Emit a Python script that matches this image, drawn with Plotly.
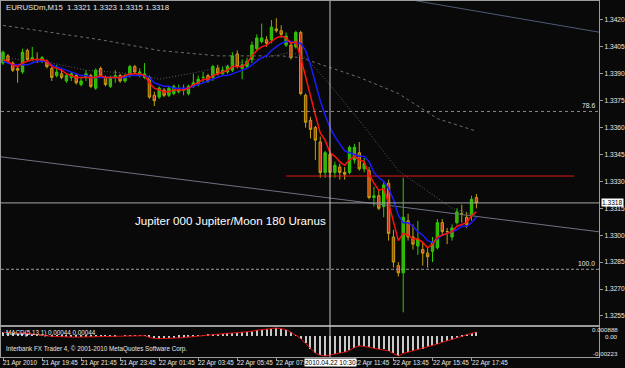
import plotly.graph_objects as go

# ---------------- data (EURUSDm, M15, bar 0 = 21 Apr 2010 17:45) ----------------
opens = [
    1.3396, 1.3400, 1.3396, 1.3393, 1.3391, 1.3403, 1.3398, 1.3398, 1.3397, 1.3397,
    1.3393, 1.3389, 1.3390, 1.3386, 1.3388, 1.3389, 1.3384, 1.3388, 1.3389, 1.3382,
    1.3393, 1.3388, 1.3383, 1.3388, 1.3389, 1.3386, 1.3389, 1.3394, 1.3389, 1.3388,
    1.3388, 1.3378, 1.3377, 1.3381, 1.3378, 1.3379, 1.3380, 1.3381, 1.3379, 1.3383,
    1.3384, 1.3388, 1.3389, 1.3388, 1.3393, 1.3390, 1.3391, 1.3392, 1.3401, 1.3393,
    1.3394, 1.3398, 1.3404, 1.3408, 1.3409, 1.3409, 1.3415, 1.3414, 1.3406, 1.3406,
    1.3405, 1.3413, 1.3378, 1.3364, 1.3360, 1.3352, 1.3335, 1.3345, 1.3335, 1.3338,
    1.3335, 1.3335, 1.3342, 1.3346, 1.3337, 1.3336, 1.3321, 1.3322, 1.3316, 1.3329,
    1.3299, 1.3283, 1.3279, 1.3308, 1.3299, 1.3294, 1.3292, 1.3290, 1.3291, 1.3293,
    1.3307, 1.3302, 1.3299, 1.3307, 1.3312, 1.3310, 1.3311, 1.3321]
highs = [
    1.3403, 1.3401, 1.3397, 1.3394, 1.3404, 1.3404, 1.3405, 1.3402, 1.3400, 1.3398,
    1.3395, 1.3395, 1.3393, 1.3390, 1.3391, 1.3390, 1.3388, 1.3392, 1.3390, 1.3393,
    1.3394, 1.3389, 1.3389, 1.3392, 1.3390, 1.3390, 1.3395, 1.3395, 1.3393, 1.3396,
    1.3389, 1.3380, 1.3383, 1.3382, 1.3383, 1.3384, 1.3384, 1.3384, 1.3384, 1.3390,
    1.3389, 1.3391, 1.3390, 1.3395, 1.3395, 1.3394, 1.3395, 1.3402, 1.3403, 1.3398,
    1.3399, 1.3408, 1.3412, 1.3418, 1.3411, 1.3420, 1.3421, 1.3417, 1.3413, 1.3407,
    1.3414, 1.3414, 1.3379, 1.3366, 1.3361, 1.3355, 1.3347, 1.3347, 1.3341, 1.3340,
    1.3338, 1.3350, 1.3351, 1.3352, 1.3343, 1.3338, 1.3327, 1.3325, 1.3330, 1.3331,
    1.3303, 1.3285, 1.3332, 1.3312, 1.3306, 1.3308, 1.3296, 1.3293, 1.3299, 1.3309,
    1.3309, 1.3304, 1.3306, 1.3315, 1.3317, 1.3313, 1.3322, 1.3323]
lows = [
    1.3395, 1.3396, 1.3391, 1.3385, 1.3390, 1.3397, 1.3397, 1.3396, 1.3396, 1.3393,
    1.3386, 1.3388, 1.3387, 1.3385, 1.3386, 1.3384, 1.3383, 1.3386, 1.3382, 1.3381,
    1.3388, 1.3383, 1.3382, 1.3385, 1.3385, 1.3385, 1.3388, 1.3390, 1.3388, 1.3387,
    1.3376, 1.3372, 1.3376, 1.3377, 1.3377, 1.3378, 1.3379, 1.3378, 1.3378, 1.3382,
    1.3383, 1.3385, 1.3385, 1.3386, 1.3389, 1.3389, 1.3390, 1.3391, 1.3393, 1.3387,
    1.3393, 1.3396, 1.3403, 1.3407, 1.3405, 1.3407, 1.3413, 1.3410, 1.3405, 1.3398,
    1.3404, 1.3378, 1.3360, 1.3354, 1.3342, 1.3332, 1.3332, 1.3332, 1.3332, 1.3331,
    1.3331, 1.3334, 1.3340, 1.3336, 1.3335, 1.3320, 1.3316, 1.3314, 1.3310, 1.3297,
    1.3282, 1.3277, 1.3257, 1.3297, 1.3292, 1.3289, 1.3283, 1.3282, 1.3285, 1.3292,
    1.3300, 1.3295, 1.3297, 1.3306, 1.3307, 1.3304, 1.3308, 1.3315]
closes = [
    1.3402, 1.3397, 1.3392, 1.3392, 1.3402, 1.3398, 1.3399, 1.3398, 1.3399, 1.3394,
    1.3388, 1.3391, 1.3388, 1.3389, 1.3390, 1.3385, 1.3386, 1.3390, 1.3383, 1.3392,
    1.3389, 1.3384, 1.3388, 1.3389, 1.3386, 1.3389, 1.3394, 1.3391, 1.3391, 1.3390,
    1.3377, 1.3375, 1.3382, 1.3378, 1.3382, 1.3383, 1.3381, 1.3381, 1.3383, 1.3385,
    1.3387, 1.3388, 1.3386, 1.3394, 1.3390, 1.3392, 1.3394, 1.3400, 1.3394, 1.3395,
    1.3397, 1.3406, 1.3410, 1.3410, 1.3407, 1.3416, 1.3414, 1.3412, 1.3411, 1.3399,
    1.3413, 1.3379, 1.3363, 1.3359, 1.3353, 1.3335, 1.3346, 1.3335, 1.3339, 1.3335,
    1.3334, 1.3349, 1.3349, 1.3337, 1.3340, 1.3321, 1.3322, 1.3315, 1.3328, 1.3301,
    1.3285, 1.3279, 1.3310, 1.3299, 1.3295, 1.3298, 1.3290, 1.3288, 1.3296, 1.3307,
    1.3302, 1.3302, 1.3304, 1.3313, 1.3312, 1.3306, 1.3320, 1.3318]

# fast moving average (red) and slower moving average (blue), read per bar
ma_red = [
    1.3398, 1.3397, 1.3395, 1.3394, 1.3396, 1.3397, 1.3398, 1.3398, 1.3398, 1.3397,
    1.3394, 1.3393, 1.3392, 1.3390, 1.3389, 1.3388, 1.3388, 1.3388, 1.3388, 1.3388,
    1.3389, 1.3388, 1.3388, 1.3388, 1.3388, 1.3389, 1.3390, 1.3390, 1.3390, 1.3389,
    1.3385, 1.3382, 1.3381, 1.3380, 1.3380, 1.3381, 1.3381, 1.3381, 1.3382, 1.3384,
    1.3385, 1.3387, 1.3387, 1.3389, 1.3390, 1.3391, 1.3392, 1.3394, 1.3394, 1.3394,
    1.3396, 1.3400, 1.3403, 1.3405, 1.3406, 1.3408, 1.3410, 1.3411, 1.3410, 1.3407,
    1.3408, 1.3399, 1.3388, 1.3377, 1.3367, 1.3357, 1.3353, 1.3346, 1.3344, 1.3341,
    1.3339, 1.3342, 1.3344, 1.3342, 1.3341, 1.3334, 1.3329, 1.3325, 1.3326, 1.3318,
    1.3307, 1.3297, 1.3301, 1.3300, 1.3298, 1.3298, 1.3296, 1.3293, 1.3295, 1.3299,
    1.3300, 1.3301, 1.3302, 1.3305, 1.3306, 1.3307, 1.3311, 1.3313]
ma_blue = [
    1.3397, 1.3396, 1.3395, 1.3395, 1.3395, 1.3395, 1.3396, 1.3397, 1.3397, 1.3397,
    1.3395, 1.3394, 1.3393, 1.3392, 1.3391, 1.3390, 1.3389, 1.3389, 1.3388, 1.3388,
    1.3388, 1.3388, 1.3388, 1.3388, 1.3388, 1.3388, 1.3389, 1.3389, 1.3389, 1.3389,
    1.3388, 1.3385, 1.3384, 1.3383, 1.3383, 1.3382, 1.3382, 1.3382, 1.3382, 1.3383,
    1.3384, 1.3385, 1.3386, 1.3387, 1.3388, 1.3389, 1.3389, 1.3390, 1.3391, 1.3392,
    1.3393, 1.3395, 1.3397, 1.3399, 1.3400, 1.3403, 1.3405, 1.3407, 1.3408, 1.3408,
    1.3407, 1.3407, 1.3403, 1.3395, 1.3385, 1.3375, 1.3367, 1.3360, 1.3355, 1.3351,
    1.3347, 1.3346, 1.3345, 1.3344, 1.3344, 1.3341, 1.3335, 1.3332, 1.3330, 1.3326,
    1.3320, 1.3311, 1.3307, 1.3307, 1.3305, 1.3302, 1.3300, 1.3297, 1.3296, 1.3298,
    1.3300, 1.3301, 1.3302, 1.3303, 1.3305, 1.3305, 1.3307, 1.3310]

# long and medium moving averages (dotted grey), read at sample bars
ma_long_bars = [0, 10, 20, 32, 44, 57, 61, 73, 81, 89, 97]
ma_long_vals = [1.3417, 1.3413, 1.3409, 1.3403, 1.3400, 1.3400, 1.3399, 1.3388, 1.3379, 1.3365, 1.3358]
ma_mid_bars = [0, 10, 17, 27, 32, 40, 50, 57, 59, 62, 66, 73, 81, 92, 97]
ma_mid_vals = [1.3399, 1.3396, 1.3392, 1.3390, 1.3387, 1.3391, 1.3397, 1.3401, 1.3402, 1.3399,
               1.3387, 1.3364, 1.3336, 1.3315, 1.3311]

# MACD(5,13,1) histogram values
macd = [
    0.00040, 0.00035, 0.00030, 0.00032, 0.00035, 0.00030, 0.00020, 0.00015, 0.00010, 0.00002,
    -0.00004, -0.00008, -0.00011, -0.00012, -0.00012, -0.00013, -0.00012, -0.00010, -0.00009, -0.00006,
    -0.00004, -0.00003, -0.00002, -0.00001, 0.00000, 0.00001, 0.00002, 0.00003, 0.00004, 0.00003,
    -0.00015, -0.00028, -0.00030, -0.00030, -0.00028, -0.00026, -0.00022, -0.00018, -0.00012, -0.00005,
    0.00002, 0.00008, 0.00013, 0.00018, 0.00022, 0.00026, 0.00030, 0.00033, 0.00036, 0.00039,
    0.00042, 0.00052, 0.00064, 0.00072, 0.00074, 0.00080, 0.000888, 0.00082, 0.00070, 0.00040,
    0.00010, -0.00030, -0.00082, -0.00140, -0.00190, -0.00215, -0.00223, -0.00212, -0.00202, -0.00192,
    -0.00180, -0.00160, -0.00130, -0.00110, -0.00115, -0.00125, -0.00138, -0.00145, -0.00150, -0.00165,
    -0.00195, -0.00222, -0.00195, -0.00180, -0.00168, -0.00155, -0.00140, -0.00125, -0.00110, -0.00090,
    -0.00070, -0.00055, -0.00040, -0.00025, -0.00005, 0.00015, 0.00030, 0.00044]

# objects drawn on the chart (bar index, price)
trend_grey_bars = [-1, 123]
trend_grey_prices = [1.33439, 1.33016]
trend_top_bars = [84, 123]
trend_top_prices = [1.34310, 1.34128]
red_level_bars = [58, 117]
red_level_price = 1.3333
fib_786_price = 1.3369
fib_100_price = 1.3281
crosshair_bar = 67
text_bar = 26.6
text_price = 1.3308

# axis labels
price_ticks = [1.3420, 1.3405, 1.3390, 1.3375, 1.3360, 1.3345, 1.3330, 1.3315,
               1.3300, 1.3285, 1.3270, 1.3255]
time_tick_bars = [0, 8, 16, 24, 32, 40, 48, 56, 72, 80, 88, 96]
time_tick_labels = ["21 Apr 2010", "21 Apr 19:45", "21 Apr 21:45", "21 Apr 23:45",
                    "22 Apr 01:45", "22 Apr 03:45", "22 Apr 05:45", "22 Apr 07:45",
                    "22 Apr 11:45", "22 Apr 13:45", "22 Apr 15:45", "22 Apr 17:45"]
crosshair_label = "2010.04.22 10:30"
header = "EURUSDm,M15  1.3321 1.3323 1.3315 1.3318"
macd_label = "MACD(5,13,1) 0.00044 0.00044"
copyright_txt = "Interbank FX Trader 4, \u00a9 2001-2010 MetaQuotes Software Corp."
astro_text = "Jupiter 000 Jupiter/Moon 180 Uranus"
macd_scale_vals = [0.000888, 0.0, -0.00223]
macd_scale_text = ["0.000888", "0.00", "-0.00223"]

# ---------------- figure ----------------
W, H = 625, 368
BG = "#090909"
FRAME = "#9c9c9c"
SMALL = "Liberation Sans, Arial, sans-serif"
n = len(opens)
bars = list(range(n))

def py(px):  # vertical pixel -> paper fraction
    return 1 - px / H

fig = go.Figure()

fig.add_trace(go.Scatter(x=ma_long_bars, y=ma_long_vals, mode="lines",
                         line=dict(color="#6e6e6e", width=1, dash="3px,3px"),
                         hoverinfo="skip", showlegend=False))
fig.add_trace(go.Scatter(x=ma_mid_bars, y=ma_mid_vals, mode="lines",
                         line=dict(color="#5e5e5e", width=1, dash="1px,2px"),
                         hoverinfo="skip", showlegend=False))
fig.add_trace(go.Scatter(x=trend_grey_bars, y=trend_grey_prices, mode="lines",
                         line=dict(color="#6c7282", width=1), hoverinfo="skip", showlegend=False))
fig.add_trace(go.Scatter(x=trend_top_bars, y=trend_top_prices, mode="lines",
                         line=dict(color="#4c5c74", width=1), hoverinfo="skip", showlegend=False))
fig.add_trace(go.Scatter(x=red_level_bars, y=[red_level_price] * 2, mode="lines",
                         line=dict(color="#e01818", width=1), hoverinfo="skip", showlegend=False))

fig.add_trace(go.Candlestick(
    x=bars, open=opens, high=highs, low=lows, close=closes,
    increasing=dict(line=dict(color="#2ecc00", width=1), fillcolor="#46a618"),
    decreasing=dict(line=dict(color="#c4a010", width=1), fillcolor="#d0321a"),
    whiskerwidth=0, hoverinfo="skip", showlegend=False))

fig.add_trace(go.Scatter(x=bars, y=ma_blue, mode="lines",
                         line=dict(color="#1a1aff", width=1.5), hoverinfo="skip", showlegend=False))
fig.add_trace(go.Scatter(x=bars, y=ma_red, mode="lines",
                         line=dict(color="#ff1010", width=1.5), hoverinfo="skip", showlegend=False))

fig.add_trace(go.Bar(x=bars, y=macd, width=0.22, marker=dict(color="#c8c8c8", line=dict(width=0)),
                     xaxis="x2", yaxis="y2", hoverinfo="skip", showlegend=False))
fig.add_trace(go.Scatter(x=bars, y=macd, mode="lines", line=dict(color="#e01010", width=1),
                         xaxis="x2", yaxis="y2", hoverinfo="skip", showlegend=False))

XR = [-0.41, 122.15]
PLOT_R = 603 / W
main_dom = [py(325), py(1)]
macd_dom = [py(357), py(327)]

axis_common = dict(showgrid=False, zeroline=False, showline=True, linecolor=FRAME,
                   linewidth=1, mirror=True)

fig.update_layout(
    width=W, height=H, margin=dict(l=0, r=0, t=0, b=0),
    paper_bgcolor=BG, plot_bgcolor=BG, showlegend=False, hovermode=False,
    bargap=0,
    xaxis=dict(domain=[0, PLOT_R], range=XR, anchor="y", showticklabels=False, ticks="",
               rangeslider=dict(visible=False), **axis_common),
    yaxis=dict(domain=main_dom, range=[1.324993, 1.343059], side="right", anchor="x",
               tickvals=price_ticks, ticktext=[f"{v:.4f}" for v in price_ticks],
               ticks="outside", ticklen=3, tickcolor=FRAME,
               tickfont=dict(family=SMALL, size=6.6, color="#e8e8e8"), **axis_common),
    xaxis2=dict(domain=[0, PLOT_R], range=XR, anchor="y2", matches="x",
                tickvals=time_tick_bars, ticks="outside", ticklen=3, tickcolor=FRAME,
                showticklabels=False, **axis_common),
    yaxis2=dict(domain=macd_dom, range=[-0.002341, 0.000999], side="right", anchor="x2",
                showticklabels=False, ticks="", **axis_common),
)

shapes = []
shapes.append(dict(type="line", xref="paper", x0=0, x1=PLOT_R, yref="y",
                   y0=fib_786_price, y1=fib_786_price, line=dict(color="#8a8a8a", width=1, dash="dot")))
shapes.append(dict(type="line", xref="paper", x0=0, x1=PLOT_R, yref="y",
                   y0=fib_100_price, y1=fib_100_price, line=dict(color="#9a9a9a", width=1, dash="3px,2px")))
shapes.append(dict(type="line", xref="paper", x0=0, x1=PLOT_R, yref="y",
                   y0=closes[-1], y1=closes[-1], line=dict(color="#a8a8a8", width=1)))
shapes.append(dict(type="line", xref="x", x0=crosshair_bar, x1=crosshair_bar, yref="paper",
                   y0=py(357), y1=py(1), line=dict(color="#c4c4c4", width=1)))
fig.update_layout(shapes=shapes)

ann = []
small_font = dict(family=SMALL, size=6.3, color="#e6e6e6")
for b, lab in zip(time_tick_bars, time_tick_labels):
    ann.append(dict(x=b, xref="x", y=py(362.5), yref="paper", text=lab, showarrow=False,
                    xanchor="left", yanchor="middle", xshift=-2, font=small_font))
ann.append(dict(x=crosshair_bar, xref="x", y=py(362.5), yref="paper", text=crosshair_label,
                showarrow=False, xanchor="center", yanchor="middle", bgcolor="#ffffff",
                borderpad=0, font=dict(family=SMALL, size=6.5, color="#000000")))
ann.append(dict(x=PLOT_R, xref="paper", xshift=2, y=closes[-1], yref="y",
                text=f"{closes[-1]:.4f}", showarrow=False, xanchor="left", yanchor="middle",
                bgcolor="#ffffff", borderpad=0, font=dict(family=SMALL, size=6.6, color="#000000")))
ann.append(dict(x=3 / W, xref="paper", y=py(7), yref="paper", text=header, showarrow=False,
                xanchor="left", yanchor="middle", font=dict(family=SMALL, size=7.8, color="#e6e6e6")))
ann.append(dict(x=3 / W, xref="paper", y=py(333), yref="paper", text=macd_label, showarrow=False,
                xanchor="left", yanchor="middle", font=small_font))
ann.append(dict(x=3 / W, xref="paper", y=py(349), yref="paper", text=copyright_txt, showarrow=False,
                xanchor="left", yanchor="middle", font=small_font))
ann.append(dict(x=text_bar, xref="x", y=text_price, yref="y", text=astro_text, showarrow=False,
                xanchor="left", yanchor="middle",
                font=dict(family="Liberation Sans, Arial, sans-serif", size=11.6, color="#ffffff")))
ann.append(dict(x=PLOT_R, xref="paper", xshift=-2, y=fib_786_price, yref="y", text="78.6",
                showarrow=False, xanchor="right", yanchor="bottom",
                font=dict(family=SMALL, size=6.8, color="#e6e6e6")))
ann.append(dict(x=PLOT_R, xref="paper", xshift=-2, y=fib_100_price, yref="y", text="100.0",
                showarrow=False, xanchor="right", yanchor="bottom",
                font=dict(family=SMALL, size=6.8, color="#e6e6e6")))
for v, t, ys in zip(macd_scale_vals, macd_scale_text, [-1, -1, 3]):
    ann.append(dict(x=1.0, xref="paper", xshift=-1, y=v, yref="y2", yshift=ys, text=t,
                    showarrow=False, xanchor="right", yanchor="middle",
                    font=dict(family=SMALL, size=6.2, color="#e6e6e6")))
fig.update_layout(annotations=ann)

fig.write_html("out.html")
